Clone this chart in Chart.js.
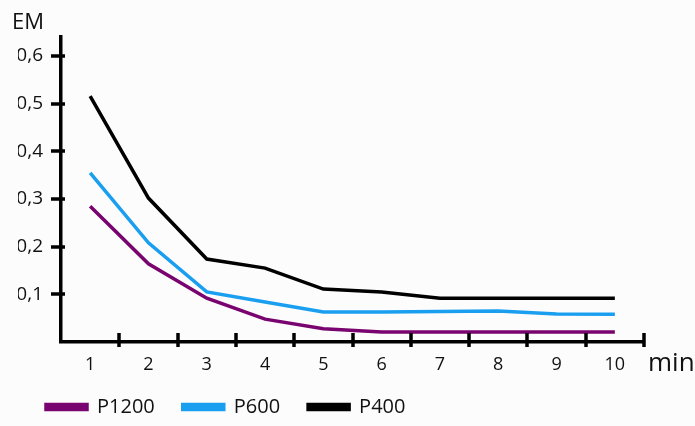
<!DOCTYPE html>
<html>
<head>
<meta charset="utf-8">
<script src="https://cdn.jsdelivr.net/npm/chart.js@4.4.1/dist/chart.umd.min.js"></script>
<style>
    html, body { margin: 0; padding: 0; background: #fcfcfc; }
    #wrap { width: 695px; height: 426px; }
</style>
</head>
<body>
<div id="wrap"><canvas id="emChart" width="695" height="426"></canvas></div>
<script>
// values
const minutes = ['1', '2', '3', '4', '5', '6', '7', '8', '9', '10'];
const p1200 = [0.285, 0.164, 0.092, 0.048, 0.028, 0.021, 0.021, 0.021, 0.021, 0.021];
const p600  = [0.355, 0.208, 0.105, 0.084, 0.063, 0.063, 0.064, 0.065, 0.059, 0.058];
const p400  = [0.516, 0.302, 0.174, 0.155, 0.111, 0.105, 0.092, 0.092, 0.092, 0.092];
const yTickValues = [0.1, 0.2, 0.3, 0.4, 0.5, 0.6];
const yTitle = 'EM';
const xTitle = 'min';

const FONT = "'Open Sans', 'DejaVu Sans', sans-serif";

// cross-shaped tick marks on both axes + the axis captions
const axisMarks = {
    id: 'axisMarks',
    beforeUpdate(chart) {
        // legend label padding is only wanted for horizontal spacing, keep the box short
        const legend = chart.legend;
        if (legend && !legend._patched) {
            const fit = legend.fit;
            legend.fit = function() {
                fit.call(this);
                this.height = 50;
            };
            legend._patched = true;
        }
    },
    afterLayout(chart) {
        // pull the legend row up a bit
        const legend = chart.legend;
        const shift = 369 - legend.top;
        legend.top += shift;
        legend.bottom += shift;
    },
    afterDraw(chart) {
        const ctx = chart.ctx;
        const x = chart.scales.x;
        const y = chart.scales.y;
        const area = chart.chartArea;
        ctx.save();
        ctx.strokeStyle = '#000';
        ctx.lineWidth = 3.5;
        ctx.beginPath();
        yTickValues.forEach(v => {
            const py = Math.round(y.getPixelForValue(v));
            ctx.moveTo(area.left - 10, py);
            ctx.lineTo(area.left + 4, py);
        });
        for (let i = 0; i < minutes.length; i++) {
            const px = i < minutes.length - 1
                ? (x.getPixelForValue(i) + x.getPixelForValue(i + 1)) / 2
                : x.right;
            ctx.moveTo(Math.round(px), area.bottom - 9);
            ctx.lineTo(Math.round(px), area.bottom + 5);
        }
        ctx.stroke();

        ctx.fillStyle = '#111';
        ctx.textBaseline = 'alphabetic';
        ctx.textAlign = 'left';
        ctx.font = '22px ' + FONT;
        ctx.fillText(yTitle, 12, 29);
        ctx.font = '26px ' + FONT;
        ctx.fillText(xTitle, area.right + 4, 371);
        ctx.restore();
    }
};

const ctx = document.getElementById('emChart').getContext('2d');

const emChart = new Chart(ctx, {
    type: 'line',
    data: {
        labels: minutes,
        datasets: [
            { label: 'P1200', data: p1200, borderColor: '#79036f', backgroundColor: '#79036f' },
            { label: 'P600',  data: p600,  borderColor: '#1a9ff0', backgroundColor: '#1a9ff0' },
            { label: 'P400',  data: p400,  borderColor: '#000000', backgroundColor: '#000000' }
        ]
    },
    options: {
        responsive: false,
        animation: false,
        devicePixelRatio: 1,
        layout: { padding: { left: 18, right: 51, top: 37, bottom: 0 } },
        elements: {
            line: { borderWidth: 3.5, tension: 0, borderCapStyle: 'butt' },
            point: { radius: 0, hoverRadius: 0 }
        },
        plugins: {
            legend: {
                position: 'bottom',
                align: 'start',
                labels: {
                    boxWidth: 41,
                    boxHeight: 5,
                    padding: 28,
                    color: '#111',
                    font: { family: FONT, size: 20 }
                }
            },
            tooltip: { enabled: false }
        },
        scales: {
            x: {
                type: 'category',
                offset: true,
                grid: { display: false, drawTicks: false },
                border: { display: true, color: '#000', width: 3.5 },
                ticks: {
                    padding: 12,
                    color: '#111',
                    maxRotation: 0,
                    font: { family: FONT, size: 18 }
                },
                afterFit(scale) { scale.height = 34; }
            },
            y: {
                min: 0,
                max: 0.64,
                grid: { display: false, drawTicks: false },
                border: { display: true, color: '#000', width: 3.5 },
                ticks: {
                    stepSize: 0.1,
                    includeBounds: false,
                    padding: 18,
                    color: '#111',
                    font: { family: FONT, size: 19 },
                    callback: function(value) {
                        if (value === 0) return '';
                        return value.toFixed(1).replace('.', ',');
                    }
                },
                afterFit(scale) { scale.width = 43; }
            }
        }
    },
    plugins: [axisMarks]
});
</script>
</body>
</html>
